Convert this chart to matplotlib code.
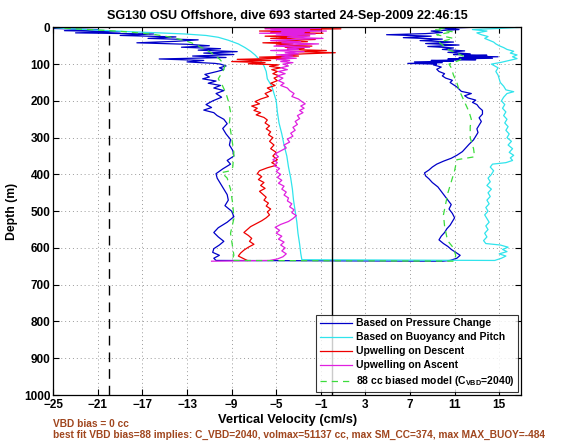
import matplotlib
matplotlib.use("Agg")
from matplotlib import pyplot as plt

plt.rcParams['font.family'] = ['Liberation Sans', 'DejaVu Sans']
plt.rcParams['font.weight'] = 'bold'

# --- Data: (depth m, vertical velocity cm/s) ---
# Based on pressure change: descent, then ascent
pressure = [
    (0, -24), (3, -25), (6, -21), (9, -24), (12, -19), (15, -23), (18, -16), (22, -19),
    (26, -14), (30, -16.5), (34, -12), (38, -14), (42, -17.5), (46, -13), (50, -11),
    (54, -13.5), (58, -10), (62, -12), (66, -8.5), (70, -11.5), (74, -8.8), (78, -12.5),
    (82, -9.5), (86, -15.5), (90, -11.5), (94, -13), (98, -10.5), (100, -10.0), (105, -9.5),
    (110, -10.1), (115, -9.7), (120, -10.3), (128, -11.4), (135, -11.0), (140, -11.6),
    (146, -10.4), (152, -11.1), (158, -10.0), (165, -10.6), (172, -9.7), (180, -10.4),
    (190, -9.9), (200, -10.7), (210, -11.3), (218, -10.8), (225, -11.5), (232, -10.6),
    (240, -10.3), (250, -9.7), (262, -9.4), (275, -9.8), (290, -9.5), (305, -9.1),
    (320, -9.2), (335, -8.9), (350, -8.8), (362, -9.4), (372, -9.1), (385, -9.8),
    (398, -10.4), (410, -10.3), (425, -10.0), (440, -9.7), (455, -9.4), (470, -9.3),
    (485, -9.6), (500, -9.0), (515, -8.8), (530, -9.4), (545, -10.2), (558, -10.6),
    (570, -10.2), (582, -9.7), (592, -10.1), (602, -10.6), (612, -10.7), (620, -10.1),
    (628, -10.6), (634, -10.4),
    (636, 9.9), (634, 10.6), (628, 11.2), (620, 11.5), (612, 11.1), (604, 10.7), (596, 10.4),
    (588, 10.0), (578, 9.6), (568, 9.8), (558, 10.1), (548, 10.3), (538, 10.6), (528, 10.8),
    (518, 11.0), (506, 10.8), (494, 10.5), (482, 10.7), (470, 10.4), (458, 10.1), (446, 9.8),
    (434, 9.5), (422, 9.0), (412, 8.7), (404, 8.4), (396, 8.3), (388, 8.7), (380, 9.0),
    (372, 9.4), (364, 10.0), (356, 10.7), (348, 11.2), (338, 11.7), (328, 12.0), (318, 12.3),
    (306, 12.7), (296, 12.9), (286, 13.1), (276, 13.0), (266, 13.2), (256, 13.4), (246, 13.2),
    (236, 13.5), (226, 13.5), (218, 13.2), (210, 13.0), (204, 12.6), (198, 12.9), (192, 12.2),
    (186, 11.9), (180, 12.5), (174, 11.6), (168, 11.4), (162, 11.2), (156, 10.9), (150, 10.6),
    (144, 10.8), (138, 10.2), (132, 9.9), (126, 10.1), (120, 9.6), (114, 9.4), (108, 9.8),
    (102, 9.1), (100, 9.4), (98, 6.8), (96, 9.9), (94, 7.4), (92, 10.9), (90, 8.9),
    (88, 12.9), (86, 10.4), (84, 14.4), (82, 11.4), (80, 14.9), (78, 11.9), (76, 13.9),
    (74, 10.9), (72, 12.4), (68, 10.4), (64, 11.9), (60, 9.9), (56, 10.9), (52, 8.6),
    (48, 11.4), (44, 8.4), (40, 10.9), (36, 7.9), (32, 9.9), (28, 6.4), (24, 8.9), (20, 4.9),
    (17, 8.4), (14, 9.9), (10, 8.9), (6, 11.4), (3, 9.9), (0, 12.4),
]

# Based on buoyancy and pitch
buoyancy = [
    (0, -25), (3, -24), (6, -22), (9, -20), (12, -18), (15, -15.5), (18, -13.2), (22, -11.3),
    (27, -10.2), (35, -9.3), (45, -8.4), (55, -7.8), (65, -7.3), (75, -6.9), (85, -6.6),
    (95, -6.3), (105, -6.1), (120, -5.9), (140, -5.8), (160, -5.4), (180, -5.2), (200, -5.0),
    (230, -4.9), (260, -4.75), (290, -4.5), (320, -4.3), (350, -4.05), (380, -3.9),
    (410, -3.7), (440, -3.55), (470, -3.45), (500, -3.3), (530, -3.15), (560, -3.05),
    (590, -2.9), (615, -2.8), (632, -2.7),
    (634, 14.6), (628, 15.2), (622, 15.6), (616, 15.0), (610, 15.7), (604, 15.3), (598, 15.8),
    (592, 15.1), (588, 13.8), (580, 13.6), (570, 13.9), (560, 13.7), (550, 14.0), (540, 13.8),
    (530, 14.1), (520, 13.9), (510, 13.7), (500, 14.0), (490, 13.8), (480, 14.1), (470, 13.9),
    (460, 14.2), (450, 14.0), (440, 14.3), (430, 13.9), (420, 14.2), (410, 14.0), (400, 14.3),
    (390, 14.5), (380, 14.2), (372, 14.4), (368, 15.6), (362, 16.2), (355, 16.0), (348, 16.3),
    (340, 15.9), (330, 16.2), (320, 15.8), (310, 16.1), (300, 15.7), (290, 15.9), (280, 15.6),
    (270, 15.8), (260, 15.5), (250, 15.7), (240, 15.4), (230, 15.6), (220, 15.3), (210, 15.5),
    (200, 15.2), (190, 15.4), (180, 15.7), (175, 16.3), (170, 15.6), (160, 15.4), (150, 15.1),
    (140, 15.0), (130, 14.9), (120, 14.7), (110, 14.9), (100, 14.3), (95, 15.2), (90, 15.9),
    (85, 16.6), (80, 16.2), (75, 16.6), (70, 16.0), (65, 16.3), (60, 15.7), (55, 15.4),
    (50, 15.0), (45, 14.7), (40, 14.5), (35, 14.1), (30, 13.7), (25, 14.0), (20, 13.4),
    (15, 13.0), (10, 13.9), (6, 12.6), (3, 14.9), (0, 16.9),
]

# Upwelling on descent
upwell_descent = [
    (0, -2.0), (2, -6.0), (4, 0.8), (6, -5.0), (8, -1.0), (10, -6.5), (12, -2.0), (14, -5.5),
    (16, -0.8), (18, -4.5), (21, -2.0), (24, -6.0), (27, -3.0), (30, -5.5), (33, -1.5),
    (36, -4.8), (39, -2.2), (42, -6.2), (45, -3.5), (48, -5.0), (51, -1.8), (54, -4.2),
    (57, -2.5), (60, -4.0), (63, -0.5), (66, -3.0), (69, 0.3), (72, -2.5), (75, -4.5),
    (78, -3.0), (81, -6.5), (84, -4.0), (87, -8.5), (90, -5.5), (93, -9.0), (96, -6.0),
    (99, -7.5), (102, -4.8), (106, -5.6), (110, -4.6), (115, -5.4), (120, -4.9), (126, -5.3),
    (132, -4.7), (138, -5.2), (145, -4.9), (152, -5.5), (158, -5.1), (165, -5.8), (172, -5.4),
    (180, -6.0), (188, -5.7), (195, -6.4), (202, -6.9), (208, -6.5), (214, -7.2), (220, -6.7),
    (226, -7.0), (232, -6.4), (238, -6.8), (245, -6.1), (252, -5.8), (260, -6.0), (268, -5.6),
    (276, -5.9), (284, -5.5), (292, -5.7), (300, -5.3), (310, -5.6), (320, -5.2), (330, -5.5),
    (340, -5.0), (350, -5.3), (360, -4.9), (368, -5.4), (375, -5.0), (382, -5.8), (390, -6.5),
    (398, -6.7), (406, -6.3), (414, -6.6), (422, -6.1), (430, -6.4), (438, -6.0), (446, -6.5),
    (454, -6.2), (462, -5.9), (470, -6.1), (478, -5.7), (486, -5.9), (494, -5.5), (502, -5.8),
    (510, -5.6), (518, -5.9), (526, -6.3), (534, -6.8), (542, -7.3), (550, -7.6), (558, -7.9),
    (566, -7.5), (574, -7.2), (582, -7.4), (590, -7.0), (598, -7.5), (606, -7.9), (614, -8.2),
    (622, -8.4), (628, -8.0), (634, -7.6),
]

# Upwelling on ascent
upwell_ascent = [
    (0, -4.0), (2, -1.0), (4, -6.0), (6, -2.0), (8, -5.5), (10, -0.5), (12, -4.5), (14, -2.5),
    (16, -6.5), (18, -1.5), (21, -5.0), (24, -2.0), (27, -4.0), (30, -0.8), (33, -3.5),
    (36, -5.5), (39, -2.8), (42, -4.5), (45, -1.2), (48, -3.8), (51, -5.2), (54, -2.0),
    (57, -4.0), (60, -3.0), (63, -5.5), (66, -2.5), (69, -4.2), (72, -3.0), (75, -5.0),
    (78, -3.5), (81, -4.5), (84, -3.2), (87, -5.0), (90, -3.8), (93, -4.6), (96, -3.5),
    (100, -4.4), (105, -3.9), (110, -4.6), (115, -4.0), (120, -4.8), (126, -4.2), (132, -4.9),
    (138, -4.4), (145, -4.8), (152, -4.3), (158, -4.6), (165, -4.0), (172, -3.8), (180, -3.4),
    (188, -3.6), (195, -3.0), (202, -2.7), (208, -2.4), (214, -2.8), (220, -2.5), (226, -2.9),
    (232, -2.6), (240, -3.1), (248, -2.9), (256, -3.3), (264, -3.1), (272, -3.5), (280, -3.3),
    (288, -3.7), (296, -3.5), (304, -4.0), (312, -3.8), (320, -4.3), (328, -4.1), (336, -4.6),
    (344, -5.1), (352, -4.8), (360, -5.3), (368, -4.9), (376, -5.2), (384, -4.7), (392, -5.0),
    (400, -4.6), (408, -4.9), (416, -4.5), (424, -4.8), (432, -4.3), (440, -4.5), (448, -4.1),
    (456, -4.3), (464, -3.9), (472, -4.0), (480, -3.6), (488, -3.8), (496, -3.4), (504, -3.6),
    (512, -3.2), (520, -3.5), (528, -3.9), (536, -4.6), (544, -5.1), (552, -4.7), (560, -5.0),
    (568, -4.5), (576, -4.8), (584, -4.3), (592, -4.6), (600, -4.2), (608, -4.5), (616, -4.1),
    (624, -4.4), (630, -4.9), (634, -5.6), (636, -10.8),
]

# 88 cc biased model
model = [
    (0, -25), (4, -23), (8, -20.5), (12, -18.5), (16, -17), (20, -15.8), (25, -14.8),
    (30, -14), (36, -13.2), (42, -12.6), (50, -12), (58, -11.5), (66, -11), (76, -10.5),
    (86, -10.1), (96, -9.8), (106, -9.6), (120, -9.8), (140, -10.2), (160, -9.8), (180, -9.5),
    (200, -9.3), (230, -9.1), (260, -9.2), (300, -9.0), (340, -8.8), (380, -8.9), (390, -9.1),
    (395, -9.9), (410, -9.4), (440, -9.1), (480, -8.9), (520, -8.8), (560, -9.1), (600, -8.9),
    (620, -8.8), (634, -9.0),
    (636, 11.0), (620, 11.1), (600, 10.9), (585, 10.5), (570, 10.3), (540, 10.1), (510, 10.0),
    (480, 10.2), (450, 10.4), (420, 10.7), (390, 11.0), (360, 11.2), (352, 12.8), (330, 12.7),
    (300, 12.4), (270, 12.4), (250, 12.5), (230, 12.3), (210, 12.0), (190, 11.7), (170, 11.4),
    (150, 11.2), (130, 10.9), (110, 10.7), (100, 10.5), (90, 11.4), (80, 11.9), (70, 11.2),
    (60, 10.4), (50, 10.0), (40, 9.6), (30, 10.9), (20, 9.4), (12, 10.9), (6, 9.2), (0, 10.4),
]

series = [
    (pressure, '#0000C8', '-', 'Based on Pressure Change'),
    (buoyancy, '#30E4EC', '-', 'Based on Buoyancy and Pitch'),
    (upwell_descent, '#EE0000', '-', 'Upwelling on Descent'),
    (upwell_ascent, '#E020E0', '-', 'Upwelling on Ascent'),
    (model, '#3CDC3C', (0, (5, 4)), '88 cc biased model (C$_{\\mathregular{VBD}}$=2040)'),
]

fig = plt.figure(figsize=(5.68, 4.42), dpi=100)
ax = fig.add_axes([0.0938, 0.1063, 0.8243, 0.8318])

for pts, col, ls, lab in series:
    depth = [p[0] for p in pts]
    vel = [p[1] for p in pts]
    ax.plot(vel, depth, color=col, lw=0.9, ls=ls, label=lab)

ax.axvline(-20, color='black', lw=1.0, ls=(0, (7, 5)))
ax.axvline(0, color='black', lw=1.0)

ax.set_xlim(-25, 17)
ax.set_ylim(1000, 0)
ax.set_xticks(range(-25, 17, 4))
ax.set_yticks(range(0, 1001, 100))
ax.grid(True, color='#9a9a9a', ls=(0, (1, 3)), lw=0.7)
ax.tick_params(direction='in', length=4, labelsize=8.5, width=0.8, top=True, right=True,
               labeltop=False, labelright=False, pad=2)
ax.tick_params(axis='x', pad=3)
for s in ax.spines.values():
    s.set_linewidth(0.9)

ax.set_title('SG130 OSU Offshore, dive 693 started 24-Sep-2009 22:46:15', fontsize=9.1,
             fontweight='bold', pad=6)
ax.set_xlabel('Vertical Velocity (cm/s)', fontsize=9.3, fontweight='bold', labelpad=2)
ax.set_ylabel('Depth (m)', fontsize=8.8, fontweight='bold', labelpad=4)

leg = ax.legend(loc='lower right', fontsize=7.5, frameon=True, fancybox=False,
                edgecolor='black', borderaxespad=0.3, handlelength=3.1, labelspacing=0.38,
                borderpad=0.35, handletextpad=0.4)
leg.get_frame().set_linewidth(0.8)

fig.text(0.093, 0.041, 'VBD bias = 0 cc', color='#A0461E', fontsize=7.3, fontweight='bold',
         va='center')
fig.text(0.093, 0.015, 'best fit VBD bias=88 implies: C_VBD=2040, volmax=51137 cc, '
         'max SM_CC=374, max MAX_BUOY=-484', color='#A0461E', fontsize=7.3, fontweight='bold',
         va='center')

fig.savefig('out.png', dpi=100)
